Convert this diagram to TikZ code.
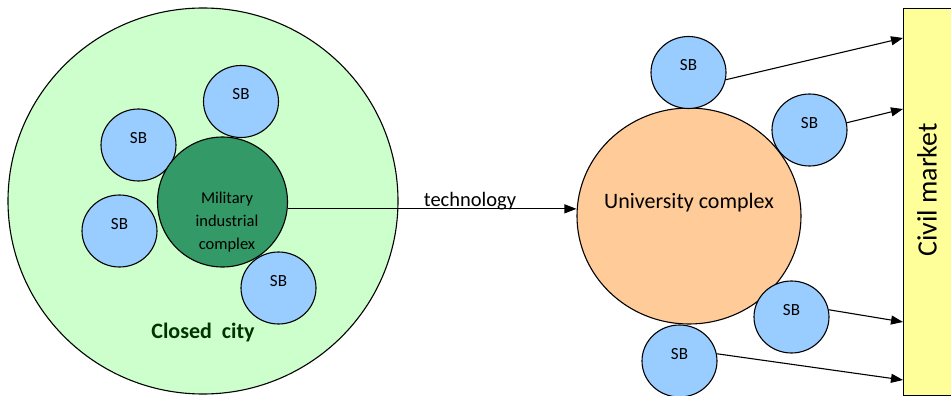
\documentclass[tikz,border=0pt]{standalone}
\usepackage{fontspec}
\setmainfont{Carlito}
\usetikzlibrary{shapes.geometric,arrows.meta}
\definecolor{citygreen}{HTML}{CCFFCC}
\definecolor{milgreen}{HTML}{339966}
\definecolor{sbblue}{HTML}{99CCFF}
\definecolor{unior}{HTML}{FFCC99}
\definecolor{civyel}{HTML}{FFFF99}
\definecolor{citytext}{HTML}{003300}
\tikzset{
  outl/.style={draw=black, line width=1.1pt},
  sbnode/.style={outl, ellipse, fill=sbblue, inner sep=0pt, minimum width=75pt, minimum height=72pt,
     label={[font=\fontsize{17}{20}\selectfont, yshift=7pt]center:SB}},
  arr/.style={line width=1.1pt, -{Triangle[length=12pt,width=9pt]}},
}
\begin{document}
\begin{tikzpicture}[x=1pt,y=-1pt]
\useasboundingbox (0,0) rectangle (951,396);
% closed city
\node[outl, ellipse, fill=citygreen, minimum width=390pt, minimum height=386pt, inner sep=0pt] (city) at (203,201) {};
\node[font=\fontsize{22}{26}\selectfont\bfseries, text=citytext] (citylbl) at (203,333) {Closed\ \ city};
% SBs around military complex
\node[sbnode] (s1) at (241,101.5) {};
\node[sbnode] (s2) at (138.5,145) {};
\node[sbnode] (s3) at (119.5,231) {};
\node[sbnode] (s4) at (278.5,288) {};
% military complex
\node[outl, circle, fill=milgreen, minimum size=130pt, inner sep=0pt,
  label={[font=\fontsize{16.5}{23}\selectfont, align=center, xshift=4.5pt, yshift=-20pt]center:Military\\industrial\\complex}] (mil) at (222.5,202) {};
% university complex
\node[outl, ellipse, fill=unior, minimum width=224pt, minimum height=216pt, inner sep=0pt,
  label={[font=\fontsize{22}{26}\selectfont, yshift=13pt]center:University complex}] (uni) at (689,216) {};
% SBs around university
\node[sbnode] (u1) at (688.5,72.5) {};
\node[sbnode] (u2) at (809.5,130) {};
\node[sbnode] (u3) at (791.5,317) {};
\node[sbnode] (u4) at (679.5,361) {};
% civil market
\node[outl, rectangle, fill=civyel, minimum width=52pt, minimum height=387pt, inner sep=0pt, anchor=north west] (cm) at (903,8) {};
\node[rotate=90, font=\fontsize{28}{32}\selectfont] (cmtext) at (927,190) {Civil market};
% technology arrow
\draw[arr] (mil.-6) -- (mil.-6 -| uni.west);
\node[anchor=base, font=\fontsize{20.5}{24}\selectfont] (techlbl) at (470,206) {technology};
% arrows to civil market
\coordinate (t1) at (903,38);
\coordinate (t2) at (903,109);
\coordinate (t3) at (903,322);
\coordinate (t4) at (903,380);
\draw[arr] (u1.-11) -- (t1 -| cm.west);
\draw[arr] (u2.11) -- (t2 -| cm.west);
\draw[arr] (u3.11) -- (t3 -| cm.west);
\draw[arr] (u4.11) -- (t4 -| cm.west);
\end{tikzpicture}
\end{document}
